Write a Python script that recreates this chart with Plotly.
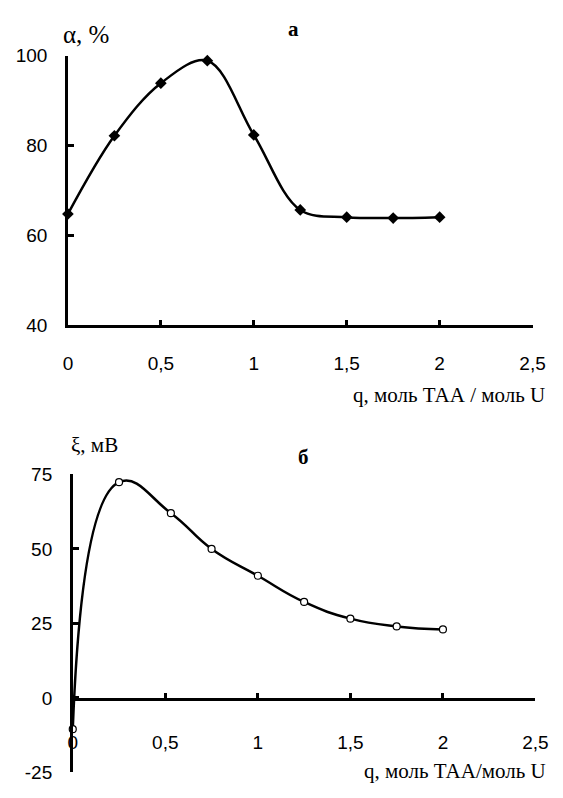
import plotly.graph_objects as go

# Panel а: extraction degree vs TAA/U ratio
q_a = [0, 0.25, 0.5, 0.75, 1.0, 1.25, 1.5, 1.75, 2.0]
alpha_pct = [64.8, 82.2, 93.9, 98.9, 82.4, 65.7, 64.1, 63.9, 64.1]

# Panel б: zeta potential vs TAA/U ratio
q_b = [0, 0.25, 0.53, 0.75, 1.0, 1.25, 1.5, 1.75, 2.0]
xi_mv = [-10.5, 72.4, 62.0, 50.0, 41.0, 32.2, 26.6, 24.0, 23.0]

x_ticks = [0, 0.5, 1, 1.5, 2, 2.5]
x_ticktext = ["0", "0,5", "1", "1,5", "2", "2,5"]
ya_ticks = [40, 60, 80, 100]
yb_ticks = [-25, 0, 25, 50, 75]
yb_ticktext = ["-25", "0", "25", "50", "75"]

W, H = 563, 798


def px_x(p):
    return p / W


def px_y(p):
    return 1 - p / H


tick_font = dict(family="Liberation Sans", size=19, color="black")
serif = "Liberation Serif"
black = "black"

fig = go.Figure()

fig.add_trace(go.Scatter(
    x=q_a, y=alpha_pct, mode="lines+markers",
    line=dict(color=black, width=2.5, shape="spline", smoothing=1.0),
    marker=dict(symbol="diamond", size=9, color=black),
    xaxis="x", yaxis="y", cliponaxis=False, showlegend=False,
))

# empty trace that registers the subplot carrying the visible q axis of panel б
fig.add_trace(go.Scatter(
    x=[None], y=[None], mode="lines", xaxis="x2", yaxis="y3",
    showlegend=False, hoverinfo="skip",
))

fig.add_trace(go.Scatter(
    x=q_b, y=xi_mv, mode="lines+markers",
    line=dict(color=black, width=2.5, shape="spline", smoothing=1.3),
    marker=dict(symbol="circle", size=7, color="white",
                line=dict(color=black, width=1.2)),
    xaxis="x3", yaxis="y2", cliponaxis=False, showlegend=False,
))

axis_common = dict(
    showgrid=False, zeroline=False, showline=True, linecolor=black,
    linewidth=2.5, ticks="inside", ticklen=6, tickwidth=2.5,
    tickcolor=black, tickfont=tick_font,
)

# y = 0 level of panel б in pixels: the q axis crosses there
zero_px = 707
b_left, b_right = 70, 548

fig.update_layout(
    width=W, height=H, autosize=False,
    margin=dict(l=0, r=0, t=0, b=0),
    paper_bgcolor="white", plot_bgcolor="rgba(0,0,0,0)",
    xaxis=dict(
        domain=[px_x(65), px_x(545)], range=[0, 2.5],
        tickvals=x_ticks, ticktext=x_ticktext, anchor="y",
        ticklabelstandoff=19, **axis_common,
    ),
    yaxis=dict(
        domain=[px_y(324), px_y(47)], range=[40, 100],
        tickvals=ya_ticks, anchor="x",
        ticklabelstandoff=14, **axis_common,
    ),
    # visible q axis of panel б, crossing at ξ = 0
    xaxis2=dict(
        domain=[px_x(b_left), px_x(b_right)], range=[0, 2.5],
        tickvals=x_ticks, ticktext=x_ticktext,
        anchor="y3",
        ticklabelstandoff=25, **axis_common,
    ),
    yaxis3=dict(
        domain=[px_y(zero_px), px_y(477)], range=[0, 75],
        anchor="x2", visible=False, showgrid=False, zeroline=False,
    ),
    # data axes of panel б
    xaxis3=dict(
        domain=[px_x(b_left), px_x(b_right)], range=[0, 2.5],
        anchor="y2", visible=False, showgrid=False, zeroline=False,
    ),
    yaxis2=dict(
        domain=[px_y(783), px_y(477)], range=[-25, 75],
        tickvals=yb_ticks, ticktext=yb_ticktext, anchor="x3",
        ticklabelstandoff=14, **axis_common,
    ),
)

labels = [
    ("α, %", 84, 25, 25, False),
    ("а", 298, 20, 21, True),
    ("q, моль ТАА / моль U", 459, 395, 21, False),
    ("ξ, мВ", 92, 447, 21, False),
    ("б", 308, 459, 21, True),
    ("q, моль ТАА/моль U", 465, 782, 21, False),
]
for text, cx, cy, size, bold in labels:
    fig.add_annotation(
        text=f"<b>{text}</b>" if bold else text,
        x=px_x(cx), y=px_y(cy), xref="paper", yref="paper",
        xanchor="center", yanchor="middle", showarrow=False,
        font=dict(family=serif, size=size, color=black),
    )

fig.write_html("out.html")
